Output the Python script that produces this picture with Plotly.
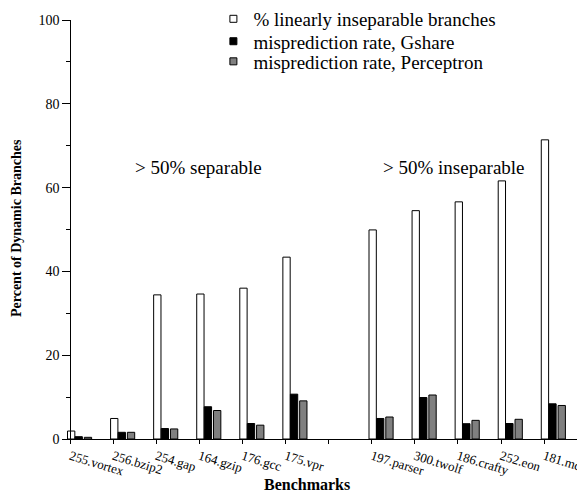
import plotly.graph_objects as go

# ---- data ----
benchmarks = ["255.vortex", "256.bzip2", "254.gap", "164.gzip", "176.gcc", "175.vpr",
              " ",
              "197.parser", "300.twolf", "186.crafty", "252.eon", "181.mcf"]
pct_inseparable = [1.9, 4.9, 34.4, 34.6, 36.0, 43.4, None, 49.9, 54.5, 56.6, 61.6, 71.4]
mispred_gshare = [0.55, 1.6, 2.5, 7.7, 3.7, 10.7, None, 4.9, 9.9, 3.65, 3.7, 8.4]
mispred_perceptron = [0.4, 1.6, 2.4, 6.8, 3.3, 9.1, None, 5.25, 10.5, 4.45, 4.7, 8.0]

series_names = ["% linearly inseparable branches",
                "misprediction rate, Gshare",
                "misprediction rate, Perceptron"]
series_values = [pct_inseparable, mispred_gshare, mispred_perceptron]
series_colors = ["#ffffff", "#000000", "#808080"]
bar_offsets = [-0.065, 0.11, 0.325]
bar_width = 0.17
legend_ids = ["legend", "legend2", "legend3"]
legend_rows_y = [1.0025, 0.949, 0.901]

FONT = "Liberation Serif"

fig = go.Figure()
for name, vals, col, off, lid in zip(series_names, series_values, series_colors,
                                     bar_offsets, legend_ids):
    fig.add_trace(go.Bar(
        x=benchmarks, y=vals, name=name,
        width=bar_width, offset=off,
        marker=dict(color=col, line=dict(color="#000000", width=1)),
        showlegend=False,
    ))
    # legend entry with small square swatch
    fig.add_trace(go.Scatter(
        x=[None], y=[None], mode="markers", name=name, legend=lid,
        marker=dict(symbol="square", size=7, color=col,
                    line=dict(color="#000000", width=1)),
    ))

x0 = -0.1
x1 = 11.95

legend_layouts = {}
for lid, ly in zip(legend_ids, legend_rows_y):
    legend_layouts[lid] = dict(
        x=0.284, y=ly, xanchor="left", yanchor="middle",
        bgcolor="rgba(0,0,0,0)", font=dict(family=FONT, size=19),
        itemwidth=30,
    )

fig.update_layout(
    width=577, height=487,
    margin=dict(l=58, r=0, t=12, b=56, autoexpand=False),
    paper_bgcolor="white", plot_bgcolor="white",
    font=dict(family=FONT, size=13, color="black"),
    barmode="overlay",
    xaxis=dict(
        type="category", range=[x0, x1],
        showline=True, linecolor="#000000", linewidth=1,
        ticks="outside", ticklen=4, tickcolor="#000000",
        tickangle=17, showgrid=False, zeroline=False,
        tickfont=dict(family=FONT, size=13), automargin=False,
    ),
    yaxis=dict(
        range=[0, 100], anchor="free", position=(0 - x0) / (x1 - x0),
        showline=True, linecolor="#000000", linewidth=1,
        ticks="outside", ticklen=8, tickcolor="#000000",
        dtick=20, showgrid=False, zeroline=False,
        minor=dict(dtick=10, ticks="outside", ticklen=4, tickcolor="#000000"),
        tickfont=dict(family=FONT, size=14), automargin=False,
    ),
    annotations=[
        dict(text="> 50% separable", xref="paper", yref="paper",
             xanchor="center", yanchor="middle",
             x=0.256, y=0.649, showarrow=False, font=dict(family=FONT, size=19)),
        dict(text="> 50% inseparable", xref="paper", yref="paper",
             xanchor="center", yanchor="middle",
             x=0.747, y=0.649, showarrow=False, font=dict(family=FONT, size=19)),
        dict(text="<b>Percent of Dynamic Branches</b>", xref="paper", yref="paper",
             xanchor="center", yanchor="middle",
             x=-0.094, y=0.504, textangle=-90, showarrow=False,
             font=dict(family=FONT, size=14)),
        dict(text="<b>Benchmarks</b>", xref="paper", yref="paper",
             xanchor="center", yanchor="middle",
             x=0.464, y=-0.108, showarrow=False, font=dict(family=FONT, size=16)),
    ],
    **legend_layouts,
)

fig.write_html("out.html")
